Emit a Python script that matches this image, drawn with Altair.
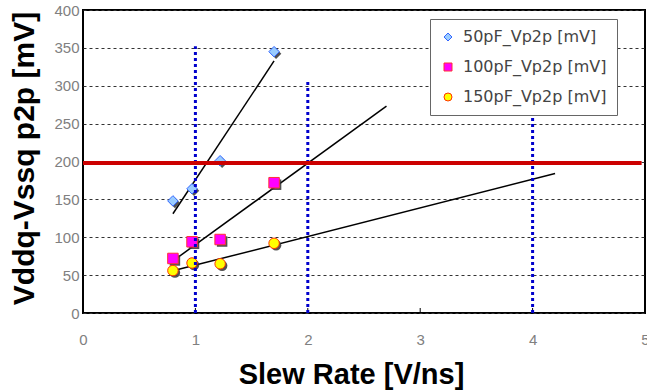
import altair as alt
import pandas as pd

# Measured peak-to-peak noise versus slew rate for three load capacitances
slew_rate = [0.8, 0.97, 1.22, 1.7]
series_names = ["50pF_Vp2p [mV]", "100pF_Vp2p [mV]", "150pF_Vp2p [mV]"]
vp2p_50pf = [148, 164, 201, 345]
vp2p_100pf = [72, 94, 97, 172]
vp2p_150pf = [56, 66, 65, 92]

# Upper x reached by each linear trend line
trend_end = [1.7, 2.7, 4.2]

# Noise limit and the slew-rate guide lines
limit_mv = 198
limit_x = [0, 4.97]
guide_x = [1, 2, 4]
guide_top = [352, 305, 262]

x_ticks = [0, 1, 2, 3, 4, 5]
y_ticks = [0, 50, 100, 150, 200, 250, 300, 350, 400]

shapes = ["diamond", "square", "circle"]
fills = ["#99ccff", "#ff00ff", "#ffff00"]
strokes = ["#3366ff", "#ff3333", "#ff3300"]

rows = []
for name, values in zip(series_names, [vp2p_50pf, vp2p_100pf, vp2p_150pf]):
    for sr, v in zip(slew_rate, values):
        rows.append({"series": name, "slew": sr, "mv": v})
points = pd.DataFrame(rows)

guides = pd.DataFrame({"x": guide_x, "top": guide_top, "y0": [0] * len(guide_x)})
limit = pd.DataFrame({"x": [limit_x[0]], "x2": [limit_x[1]], "y": [limit_mv]})
ticks = pd.DataFrame({"x": x_ticks})

W, H = 562, 303

x_scale = alt.Scale(domain=[0, 5], nice=False)
y_scale = alt.Scale(domain=[0, 400], nice=False)

label_font = "Liberation Sans"

x_axis = alt.Axis(
    values=x_ticks, tickCount=12, format="d", grid=False, domain=False, ticks=False,
    labelOverlap=False, labelFlush=False,
    labelFont=label_font, labelFontSize=15, labelColor="#808080",
    labelPadding=19, title="Slew Rate [V/ns]", titleFont="Liberation Sans",
    titleFontSize=29, titleFontWeight="bold", titleColor="#000000",
    titleX=268, titleY=70, titleBaseline="alphabetic", titleAnchor="middle",
    titleAlign="center",
)
y_axis = alt.Axis(
    values=y_ticks, tickCount=20, format="d", grid=True, gridDash=[3, 3],
    gridColor="#333333", gridWidth=1, domain=False, ticks=False,
    labelOverlap=False, labelFlush=False,
    labelFont=label_font, labelFontSize=15, labelColor="#808080",
    labelPadding=4, title="Vddq-Vssq p2p [mV]", titleFont="Liberation Sans",
    titleFontSize=30, titleFontWeight="bold", titleColor="#000000",
    titleAngle=-90, titleX=-50, titleY=148, titleBaseline="alphabetic",
    titleAlign="center", titleAnchor="middle",
)


def xq(field):
    return alt.X(field, type="quantitative", scale=x_scale)


def yq(field):
    return alt.Y(field, type="quantitative", scale=y_scale)


base_axes = alt.Chart(points).mark_point(opacity=0).encode(
    x=alt.X("slew:Q", scale=x_scale, axis=x_axis),
    y=alt.Y("mv:Q", scale=y_scale, axis=y_axis),
)

# Linear trend lines, one per capacitance
trend_layers = []
for name, end in zip(series_names, trend_end):
    trend_layers.append(
        alt.Chart(points)
        .transform_filter(alt.datum.series == name)
        .transform_regression("slew", "mv", extent=[0.8, end])
        .mark_line(color="#000000", strokeWidth=1.5)
        .encode(x=xq("slew"), y=yq("mv"))
    )

# Drop shadows behind the markers
shadow_layers = []
for name, shp in zip(series_names, shapes):
    shadow_layers.append(
        alt.Chart(points)
        .transform_filter(alt.datum.series == name)
        .mark_point(shape=shp, filled=True, size=110, color="#333333",
                    opacity=0.85, xOffset=2, yOffset=2)
        .encode(x=xq("slew"), y=yq("mv"))
    )

markers = alt.Chart(points).mark_point(filled=True, size=110, strokeWidth=1, opacity=1).encode(
    x=xq("slew"),
    y=yq("mv"),
    shape=alt.Shape("series:N", scale=alt.Scale(domain=series_names, range=shapes),
                    legend=alt.Legend(title=None)),
    fill=alt.Fill("series:N", scale=alt.Scale(domain=series_names, range=fills),
                  legend=alt.Legend(title=None)),
    stroke=alt.Stroke("series:N", scale=alt.Scale(domain=series_names, range=strokes),
                      legend=alt.Legend(title=None)),
)

guide_rules = alt.Chart(guides).mark_rule(
    color="#0000cc", strokeWidth=3, strokeDash=[3, 3]
).encode(
    x=xq("x"),
    y=yq("y0"),
    y2="top:Q",
)

limit_rule = alt.Chart(limit).mark_rule(color="#cc0000", strokeWidth=4).encode(
    x=xq("x"),
    x2="x2:Q",
    y=yq("y"),
)

tick_marks = alt.Chart(ticks).mark_rule(color="#000000", strokeWidth=1).encode(
    x=xq("x"),
    y=alt.value(H),
    y2=alt.value(H - 5),
)

chart = alt.layer(
    base_axes, tick_marks, *trend_layers, *shadow_layers, markers, guide_rules, limit_rule
).properties(
    width=W, height=H,
    autosize=alt.AutoSizeParams(type="none"),
    padding={"left": 83, "top": 10, "right": 2, "bottom": 78},
    background="#ffffff",
).configure_view(
    stroke="#000000", strokeWidth=2
).configure_legend(
    orient="none", legendX=347, legendY=9,
    fillColor="#ffffff", strokeColor="#666666", strokeWidth=1,
    padding=10, rowPadding=14, symbolSize=64, symbolStrokeWidth=1,
    labelFont="DejaVu Sans", labelFontSize=16, labelColor="#444444",
    labelOffset=7, labelLimit=300,
)

chart.save("out.html", embed_options={"renderer": "svg", "actions": False})
